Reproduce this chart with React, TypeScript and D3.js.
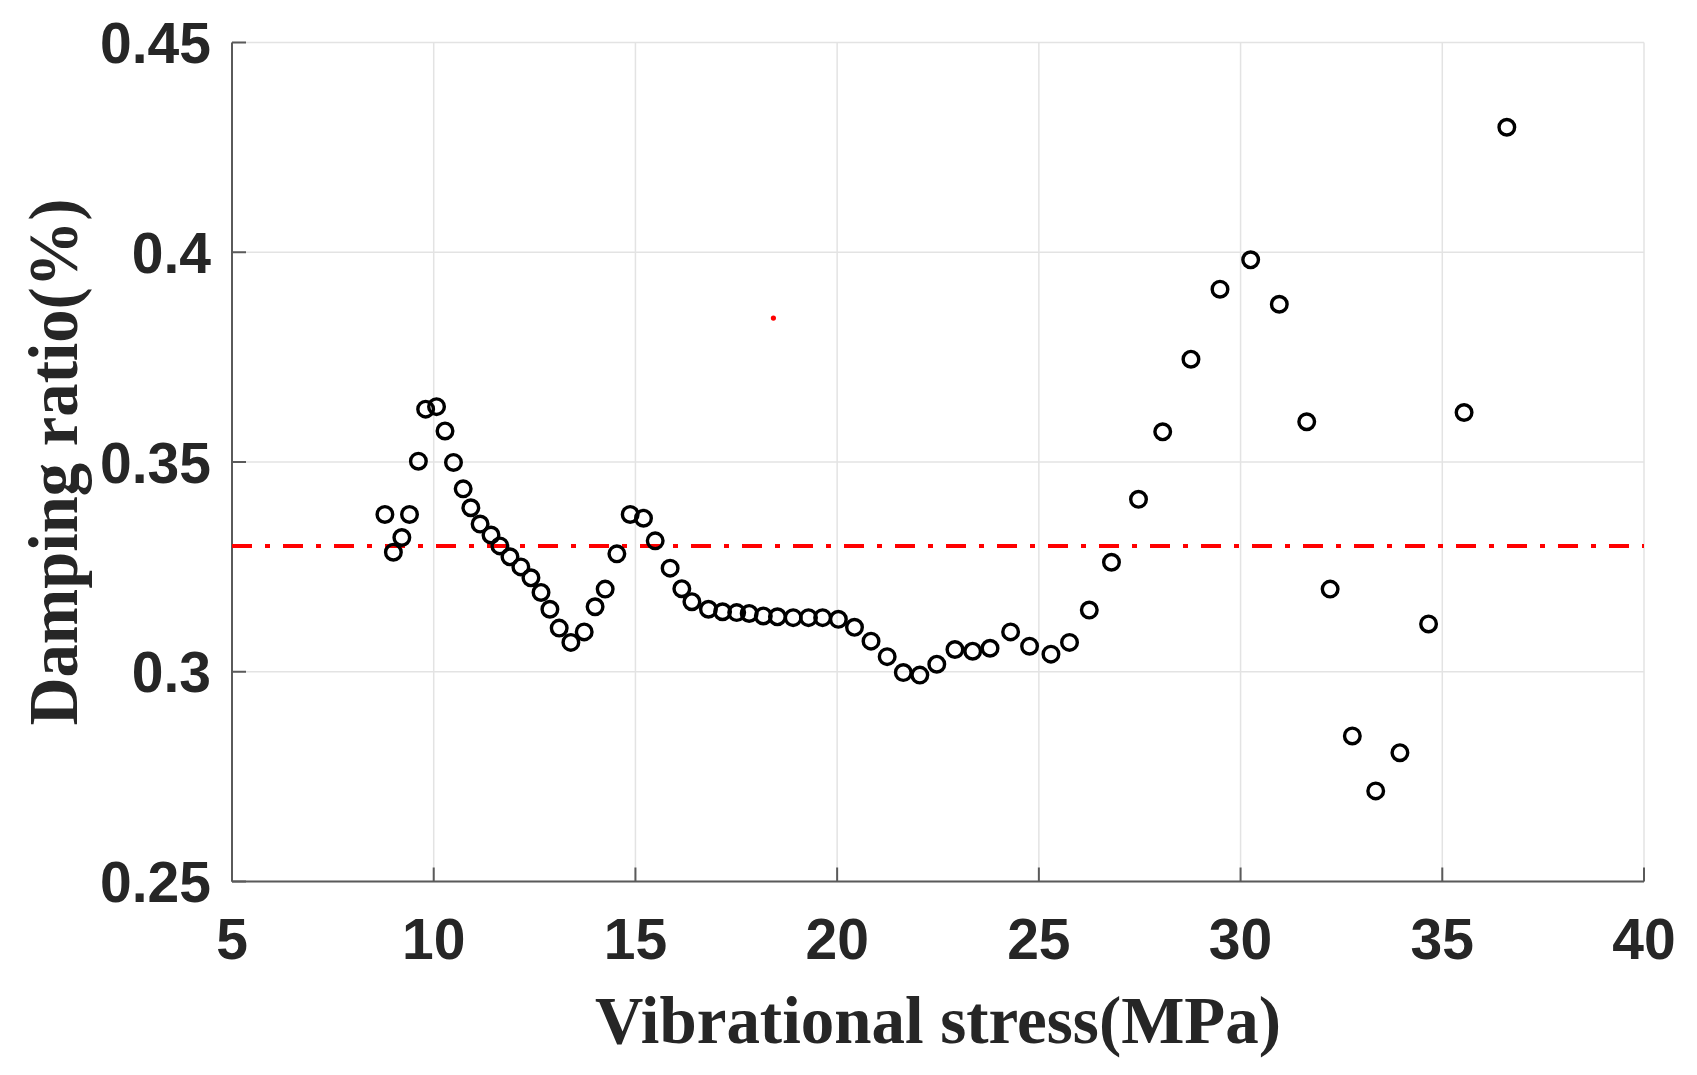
import React from "react";
import * as d3 from "d3";

const stress = [
  8.79, 9.0, 9.21, 9.4, 9.62, 9.8, 10.07, 10.28, 10.49, 10.73, 10.92, 11.15, 11.42, 11.64,
  11.89, 12.16, 12.41, 12.66, 12.88, 13.11, 13.4, 13.73, 14.0, 14.25, 14.54, 14.87, 15.2,
  15.49, 15.86, 16.15, 16.4, 16.81, 17.16, 17.51, 17.82, 18.17, 18.52, 18.91, 19.29, 19.64,
  20.03, 20.43, 20.84, 21.24, 21.64, 22.05, 22.47, 22.92, 23.36, 23.79, 24.3, 24.77, 25.3,
  25.76, 26.25, 26.8, 27.47, 28.07, 28.77, 29.49, 30.25, 30.96, 31.64, 32.22, 32.77, 33.35,
  33.95, 34.66, 35.54, 36.6,
];
const damping = [
  0.3375, 0.3285, 0.332, 0.3375, 0.3502, 0.3626, 0.3632, 0.3574, 0.3499, 0.3436, 0.3391,
  0.3352, 0.3326, 0.33, 0.3274, 0.325, 0.3224, 0.3189, 0.3149, 0.3104, 0.307, 0.3095, 0.3155,
  0.3197, 0.3281, 0.3375, 0.3366, 0.3312, 0.3247, 0.3198, 0.3167, 0.3149, 0.3143, 0.3141,
  0.3139, 0.3133, 0.3131, 0.3129, 0.3129, 0.3129, 0.3125, 0.3106, 0.3073, 0.3036, 0.2998,
  0.2992, 0.3018, 0.3053, 0.3049, 0.3056, 0.3095, 0.3061, 0.3042, 0.307, 0.3147, 0.3261,
  0.3411, 0.3572, 0.3745, 0.3912, 0.3982, 0.3876, 0.3596, 0.3197, 0.2847, 0.2716, 0.2807,
  0.3114, 0.3618, 0.4298,
];
const meanLevel = 0.33;
const redDot = { x: 18.42, y: 0.3843 };
const xTicks = [5, 10, 15, 20, 25, 30, 35, 40];
const yTicks = [0.25, 0.3, 0.35, 0.4, 0.45];
const xLabel = "Vibrational stress(MPa)";
const yLabel = "Damping ratio(%)";

const W = 1697;
const H = 1075;
const L = 232;
const R = 1644;
const T = 42.5;
const B = 881.5;

export default function App() {
  const x = d3.scaleLinear().domain([5, 40]).range([L, R]);
  const y = d3.scaleLinear().domain([0.25, 0.45]).range([B, T]);
  const tickFont = "'Liberation Sans', Arial, sans-serif";
  const labelFont = "'Liberation Serif', 'Times New Roman', serif";
  const grid = "#e3e3e3";
  const axisColor = "#5a5a5a";
  const textColor = "#262626";
  const yFmt = (v: number) => (v === 0.4 ? "0.4" : v === 0.3 ? "0.3" : d3.format(".2f")(v));

  return (
    <div style={{ position: "fixed", left: 0, top: 0, background: "#fff" }}>
      <svg width={W} height={H} viewBox={`0 0 ${W} ${H}`} style={{ display: "block" }}>
        <rect x={0} y={0} width={W} height={H} fill="#fff" />
        {xTicks.map((t) => (
          <line key={"gx" + t} x1={x(t)} x2={x(t)} y1={T} y2={B} stroke={grid} strokeWidth={1.5} />
        ))}
        {yTicks.map((t) => (
          <line key={"gy" + t} x1={L} x2={R} y1={y(t)} y2={y(t)} stroke={grid} strokeWidth={1.5} />
        ))}
        <line x1={L} x2={L} y1={T} y2={B} stroke={axisColor} strokeWidth={2} />
        <line x1={L} x2={R} y1={B} y2={B} stroke={axisColor} strokeWidth={2} />
        {xTicks.map((t) => (
          <line key={"tx" + t} x1={x(t)} x2={x(t)} y1={B} y2={B - 14} stroke={axisColor} strokeWidth={2} />
        ))}
        {yTicks.map((t) => (
          <line key={"ty" + t} x1={L} x2={L + 14} y1={y(t)} y2={y(t)} stroke={axisColor} strokeWidth={2} />
        ))}
        {xTicks.map((t) => (
          <text
            key={"lx" + t}
            x={x(t)}
            y={959}
            textAnchor="middle"
            fontFamily={tickFont}
            fontWeight="bold"
            fontSize={57}
            fill={textColor}
          >
            {t}
          </text>
        ))}
        {yTicks.map((t) => (
          <text
            key={"ly" + t}
            x={211}
            y={y(t) + 20.5}
            textAnchor="end"
            fontFamily={tickFont}
            fontWeight="bold"
            fontSize={57}
            fill={textColor}
          >
            {yFmt(t)}
          </text>
        ))}
        <line
          x1={L}
          x2={R}
          y1={y(meanLevel)}
          y2={y(meanLevel)}
          stroke="#ff0000"
          strokeWidth={4}
          strokeDasharray="20 13 5 13"
        />
        <circle cx={x(redDot.x)} cy={y(redDot.y)} r={2.6} fill="#ff0000" />
        {stress.map((s, i) => (
          <circle
            key={"p" + i}
            cx={x(s)}
            cy={y(damping[i])}
            r={7.8}
            fill="none"
            stroke="#000"
            strokeWidth={3.4}
          />
        ))}
        <text
          x={(L + R) / 2}
          y={1043}
          textAnchor="middle"
          fontFamily={labelFont}
          fontWeight="bold"
          fontSize={68}
          fill={textColor}
          textLength={686}
          lengthAdjust="spacingAndGlyphs"
        >
          {xLabel}
        </text>
        <text
          transform={`translate(77, ${(T + B) / 2}) rotate(-90)`}
          x={0}
          y={0}
          textAnchor="middle"
          fontFamily={labelFont}
          fontWeight="bold"
          fontSize={70}
          fill={textColor}
          textLength={527}
          lengthAdjust="spacingAndGlyphs"
        >
          {yLabel}
        </text>
      </svg>
    </div>
  );
}
